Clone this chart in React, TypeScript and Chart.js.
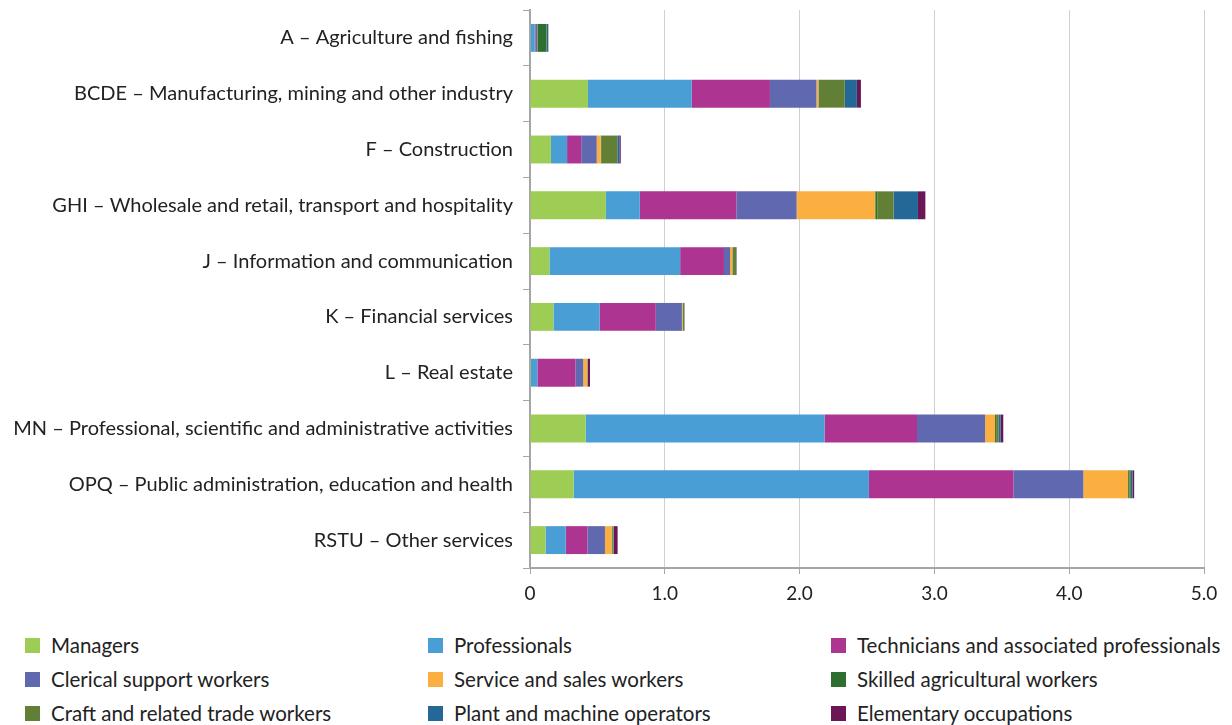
import React, { useEffect, useRef } from "react";
import { Chart, registerables } from "chart.js";

Chart.register(...registerables);

const categories = [
  "A – Agriculture and fishing",
  "BCDE – Manufacturing, mining and other industry",
  "F – Construction",
  "GHI – Wholesale and retail, transport and hospitality",
  "J – Information and communication",
  "K – Financial services",
  "L – Real estate",
  "MN – Professional, scientific and administrative activities",
  "OPQ – Public administration, education and health",
  "RSTU – Other services",
];

const managers = [0.005, 0.43, 0.155, 0.563, 0.144, 0.174, 0.007, 0.412, 0.324, 0.115];
const professionals = [0.03, 0.77, 0.12, 0.251, 0.97, 0.342, 0.048, 1.773, 2.19, 0.15];
const technicians = [0.005, 0.58, 0.105, 0.717, 0.325, 0.417, 0.282, 0.686, 1.073, 0.161];
const clerical = [0.012, 0.345, 0.115, 0.447, 0.045, 0.194, 0.058, 0.505, 0.518, 0.13];
const service = [0.002, 0.015, 0.03, 0.583, 0.017, 0.005, 0.029, 0.074, 0.332, 0.05];
const skilledAgri = [0.068, 0.01, 0.003, 0.015, 0.003, 0.002, 0.001, 0.008, 0.009, 0.004];
const craft = [0.004, 0.185, 0.12, 0.121, 0.027, 0.01, 0.003, 0.018, 0.012, 0.01];
const plant = [0.008, 0.09, 0.015, 0.181, 0.002, 0.002, 0.002, 0.015, 0.012, 0.003];
const elementary = [0.002, 0.03, 0.01, 0.055, 0.001, 0.001, 0.015, 0.02, 0.012, 0.027];

const xTicks = [0, 1, 2, 3, 4, 5];

const seriesNames = [
  "Managers",
  "Professionals",
  "Technicians and associated professionals",
  "Clerical support workers",
  "Service and sales workers",
  "Skilled agricultural workers",
  "Craft and related trade workers",
  "Plant and machine operators",
  "Elementary occupations",
];
const seriesValues = [managers, professionals, technicians, clerical, service, skilledAgri, craft, plant, elementary];
const seriesColors = ["#9DCD55", "#4A9ED6", "#AE3492", "#6068AF", "#FBAF41", "#2E6E30", "#617F35", "#236897", "#6B1757"];

const FONT = "Lato, 'Noto Sans', sans-serif";

export default function App() {
  const ref = useRef<HTMLCanvasElement | null>(null);

  useEffect(() => {
    if (!ref.current) return;
    const chart = new Chart(ref.current, {
      type: "bar",
      data: {
        labels: categories,
        datasets: seriesNames.map((name, i) => ({
          label: name,
          data: seriesValues[i],
          backgroundColor: seriesColors[i],
          borderWidth: 0,
          categoryPercentage: 0.5,
          barPercentage: 1,
        })),
      },
      options: {
        indexAxis: "y",
        responsive: false,
        animation: false,
        layout: { padding: { top: 10, right: 28, left: 0, bottom: 0 } },
        plugins: { legend: { display: false }, tooltip: { enabled: false } },
        scales: {
          x: {
            stacked: true,
            min: 0,
            max: 5,
            afterBuildTicks: (scale: any) => {
              scale.ticks = xTicks.map((v) => ({ value: v }));
            },
            afterFit: (scale: any) => {
              scale.height = 52;
            },
            grid: { color: "#d0d0d0", lineWidth: 1, tickLength: 6, tickColor: "#a6a6a6" },
            border: { color: "#a6a6a6", width: 2 },
            ticks: {
              padding: 8,
              color: "#222",
              font: { family: FONT, size: 19 },
              callback: (v: any) => (Number(v) === 0 ? "0" : Number(v).toFixed(1)),
            },
          },
          y: {
            stacked: true,
            afterFit: (scale: any) => {
              scale.width = 530;
              scale.paddingTop = 0;
              scale.paddingBottom = 0;
            },
            grid: { drawOnChartArea: false, tickLength: 7, color: "#a6a6a6" },
            border: { color: "#a6a6a6", width: 2 },
            ticks: { padding: 10, color: "#222", font: { family: FONT, size: 20 } },
          },
        },
      },
    });
    return () => chart.destroy();
  }, []);

  const colX = [25, 428, 831];
  const rowY = [645, 679, 713];

  return (
    <div style={{ position: "absolute", left: 0, top: 0, width: 1232, height: 725, background: "#fff", fontFamily: FONT }}>
      <canvas ref={ref} width={1232} height={620} style={{ position: "absolute", left: 0, top: 0 }} />
      {seriesNames.map((name, i) => {
        const col = i % 3;
        const row = Math.floor(i / 3);
        return (
          <div
            key={name}
            style={{
              position: "absolute",
              left: colX[col],
              top: rowY[row] - 13,
              height: 26,
              display: "flex",
              alignItems: "center",
              whiteSpace: "nowrap",
              fontSize: 20.5,
              color: "#222",
            }}
          >
            <span style={{ display: "inline-block", width: 15, height: 15, background: seriesColors[i], marginRight: 11, flexShrink: 0 }} />
            <span>{name}</span>
          </div>
        );
      })}
    </div>
  );
}
